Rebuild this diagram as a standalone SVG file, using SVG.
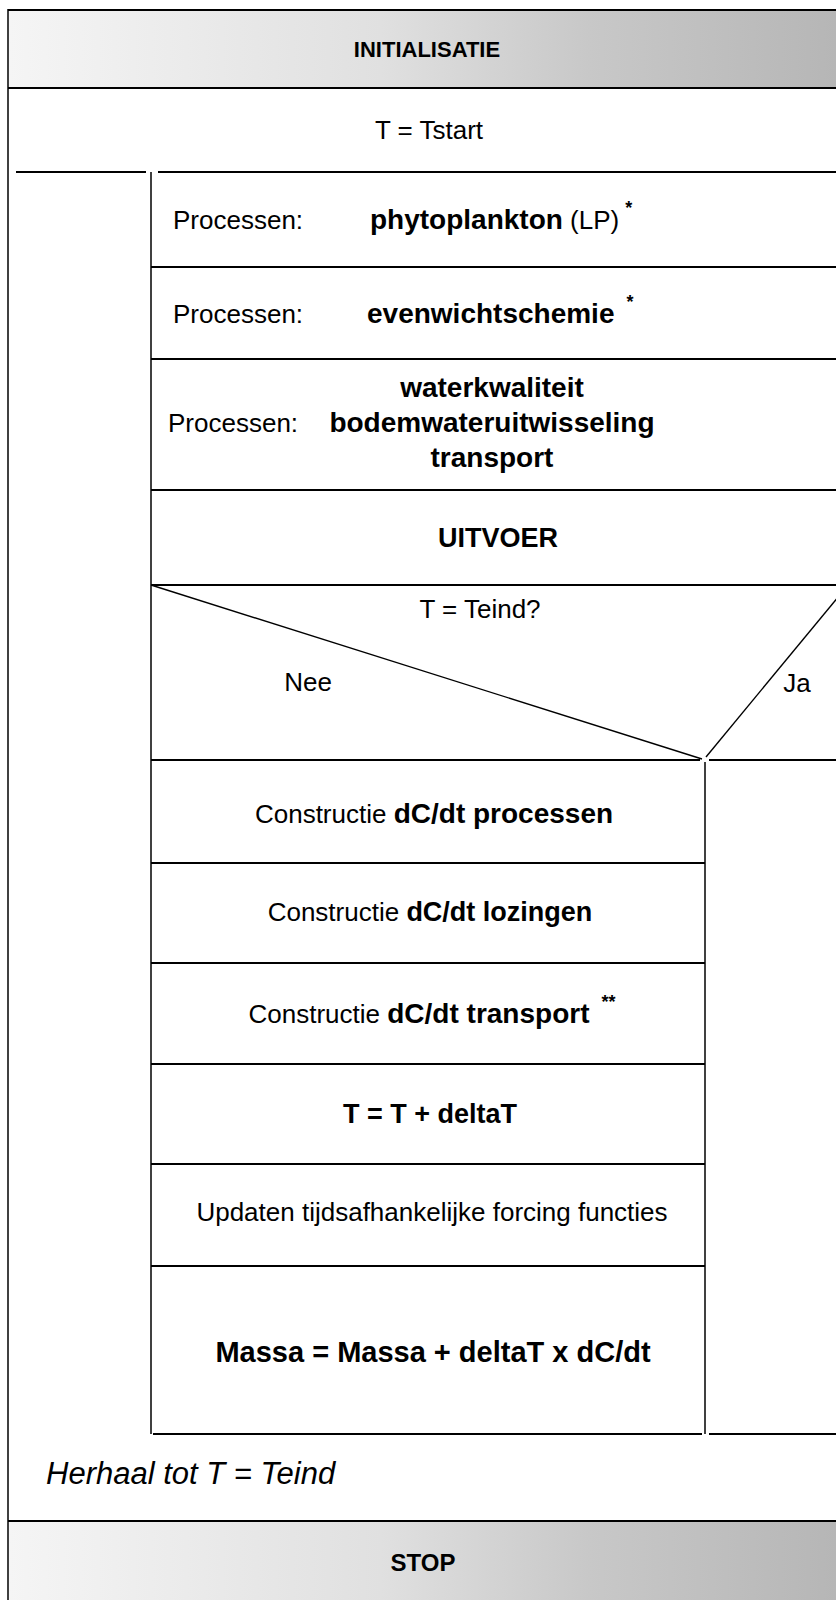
<svg xmlns="http://www.w3.org/2000/svg" width="836" height="1600" viewBox="0 0 836 1600">
  <defs>
    <linearGradient id="shade" x1="0" y1="0" x2="1" y2="0">
      <stop offset="0" stop-color="#f5f5f5"/>
      <stop offset="0.45" stop-color="#e0e0e0"/>
      <stop offset="0.7" stop-color="#c8c8c8"/>
      <stop offset="1" stop-color="#b6b6b6"/>
    </linearGradient>
  </defs>
  <style>
    text { font-family: "Liberation Sans", Arial, sans-serif; fill: #000; }
    .r { font-size: 26px; }
    .b { font-size: 27px; font-weight: bold; }
    .bb { font-size: 28px; font-weight: bold; }
    .c { text-anchor: middle; }
    .band { fill: url(#shade); }
    .h { stroke: #000; stroke-width: 2; fill: none; }
    .v { stroke: #000; stroke-width: 1.5; fill: none; }
    .star { font-size: 18px; font-weight: bold; }
  </style>

  <rect width="836" height="1600" fill="#fff"/>

  <!-- structure lines of the Nassi-Shneiderman chart -->
  <g id="lines">
    <!-- outer frame -->
    <line class="v" x1="8" y1="9" x2="8" y2="1600"/>
    <line class="h" x1="8" y1="10" x2="836" y2="10"/>
    <line class="h" x1="8" y1="88" x2="836" y2="88"/>
    <line class="h" x1="16" y1="172" x2="146" y2="172"/>
    <line class="h" x1="158" y1="172" x2="836" y2="172"/>
    <line class="h" x1="8" y1="1521" x2="836" y2="1521"/>
    <!-- loop body -->
    <line class="v" x1="151" y1="172" x2="151" y2="1434"/>
    <line class="h" x1="151" y1="267" x2="836" y2="267"/>
    <line class="h" x1="151" y1="359" x2="836" y2="359"/>
    <line class="h" x1="151" y1="490" x2="836" y2="490"/>
    <line class="h" x1="151" y1="585" x2="836" y2="585"/>
    <!-- decision -->
    <line stroke="#000" stroke-width="1.4" x1="151" y1="585" x2="702" y2="759"/>
    <line stroke="#000" stroke-width="1.4" x1="706" y1="757" x2="848" y2="585"/>
    <line class="h" x1="151" y1="760" x2="700" y2="760"/>
    <line class="h" x1="709" y1="760" x2="836" y2="760"/>
    <line class="v" x1="705" y1="762" x2="705" y2="1434"/>
    <!-- branch rows -->
    <line class="h" x1="151" y1="863" x2="705" y2="863"/>
    <line class="h" x1="151" y1="963" x2="705" y2="963"/>
    <line class="h" x1="151" y1="1064" x2="705" y2="1064"/>
    <line class="h" x1="151" y1="1164" x2="705" y2="1164"/>
    <line class="h" x1="151" y1="1266" x2="705" y2="1266"/>
    <line class="h" x1="153" y1="1434" x2="702" y2="1434"/>
    <line class="h" x1="709" y1="1434" x2="836" y2="1434"/>
  </g>

  <g id="initialisatie">
    <rect class="band" x="9" y="11" width="827" height="76"/>
    <text class="c" x="427" y="57" font-size="22" font-weight="bold">INITIALISATIE</text>
  </g>

  <g id="tstart">
    <text class="r c" x="429" y="139">T = Tstart</text>
  </g>

  <g id="phytoplankton">
    <text class="r" x="173" y="229">Processen:</text>
    <text x="370" y="229"><tspan class="bb">phytoplankton</tspan><tspan class="r"> (LP)</tspan><tspan class="star" dx="6" dy="-15">*</tspan></text>
  </g>

  <g id="evenwichtschemie">
    <text class="r" x="173" y="323">Processen:</text>
    <text x="367" y="323"><tspan class="bb">evenwichtschemie</tspan><tspan class="star" dx="12" dy="-15">*</tspan></text>
  </g>

  <g id="waterkwaliteit">
    <text class="r" x="168" y="432">Processen:</text>
    <text class="bb c" x="492" y="397">waterkwaliteit</text>
    <text class="bb c" x="492" y="432">bodemwateruitwisseling</text>
    <text class="bb c" x="492" y="467">transport</text>
  </g>

  <g id="uitvoer">
    <text class="b c" x="498" y="547" font-size="24">UITVOER</text>
  </g>

  <g id="beslissing">
    <text class="r c" x="480" y="618">T = Teind?</text>
    <text class="r c" x="308" y="691">Nee</text>
    <text class="r c" x="797" y="692">Ja</text>
  </g>

  <g id="dcdt-processen">
    <text class="c" x="434" y="823"><tspan class="r" font-size="23">Constructie </tspan><tspan class="bb">dC/dt processen</tspan></text>
  </g>

  <g id="dcdt-lozingen">
    <text class="c" x="430" y="921"><tspan class="r" font-size="23">Constructie </tspan><tspan class="b">dC/dt lozingen</tspan></text>
  </g>

  <g id="dcdt-transport">
    <text class="c" x="432" y="1023"><tspan class="r" font-size="23">Constructie </tspan><tspan class="bb">dC/dt transport</tspan><tspan class="star" dx="12" dy="-15">**</tspan></text>
  </g>

  <g id="tijdstap">
    <text class="b c" x="430" y="1123">T = T + deltaT</text>
  </g>

  <g id="forcing">
    <text class="r c" x="432" y="1221">Updaten tijdsafhankelijke forcing functies</text>
  </g>

  <g id="massa">
    <text class="c" x="433" y="1362" font-size="29" font-weight="bold">Massa = Massa + deltaT x dC/dt</text>
  </g>

  <g id="herhaal">
    <text x="46" y="1484" font-size="31" font-style="italic">Herhaal tot T = Teind</text>
  </g>

  <g id="stop">
    <rect class="band" x="9" y="1522" width="827" height="78"/>
    <text class="c" x="423" y="1571" font-size="24" font-weight="bold">STOP</text>
  </g>
</svg>
